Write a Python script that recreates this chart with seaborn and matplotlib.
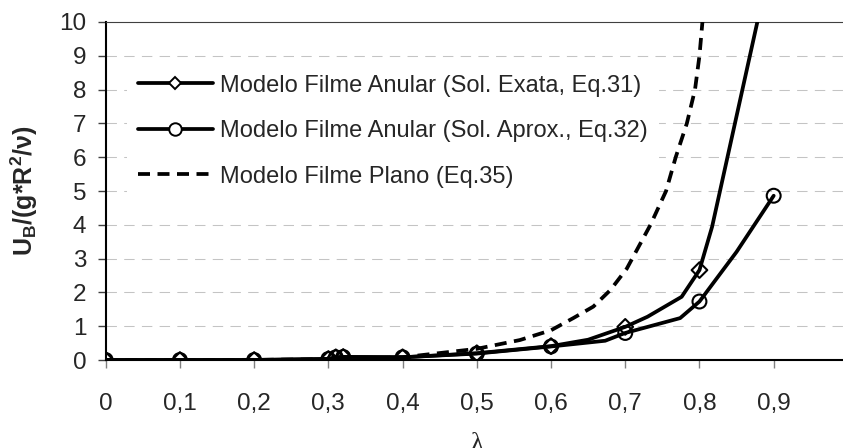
import matplotlib
matplotlib.use("Agg")
import matplotlib.pyplot as plt
from matplotlib.lines import Line2D
import seaborn as sns

# ---- data ----
exact_line_x = [0, 0.1, 0.2, 0.3, 0.31, 0.32, 0.4, 0.5, 0.6, 0.65, 0.7, 0.73, 0.776, 0.8, 0.817, 0.878, 0.9]
exact_line_y = [0, 0, 0, 0.03, 0.08, 0.09, 0.08, 0.2, 0.41, 0.6, 0.98, 1.28, 1.87, 2.66, 3.94, 10.0, 12.2]
exact_mark_x = [0, 0.1, 0.2, 0.3, 0.31, 0.32, 0.4, 0.5, 0.6, 0.7, 0.8]
exact_mark_y = [0, 0, 0, 0.03, 0.08, 0.09, 0.08, 0.2, 0.41, 0.98, 2.66]

approx_line_x = [0, 0.1, 0.2, 0.3, 0.31, 0.32, 0.4, 0.5, 0.6, 0.673, 0.7, 0.774, 0.8, 0.85, 0.9]
approx_line_y = [0, 0, 0, 0.03, 0.08, 0.09, 0.08, 0.19, 0.4, 0.57, 0.8, 1.24, 1.73, 3.2, 4.86]
approx_mark_x = [0, 0.1, 0.2, 0.3, 0.31, 0.32, 0.4, 0.5, 0.6, 0.7, 0.8, 0.9]
approx_mark_y = [0, 0, 0, 0.03, 0.08, 0.09, 0.08, 0.19, 0.4, 0.8, 1.73, 4.86]

plano_x = [0, 0.1, 0.2, 0.3, 0.4, 0.5, 0.558, 0.6, 0.63, 0.657, 0.68, 0.702, 0.734, 0.755, 0.768, 0.783, 0.794, 0.8, 0.804, 0.81]
plano_y = [0, 0, 0.005, 0.02, 0.08, 0.33, 0.59, 0.88, 1.24, 1.58, 2.07, 2.7, 4.0, 5.0, 6.0, 7.0, 8.0, 9.0, 10.0, 11.5]

labels = ["Modelo Filme Anular (Sol. Exata, Eq.31)",
          "Modelo Filme Anular (Sol. Aprox., Eq.32)",
          "Modelo Filme Plano (Eq.35)"]
xtick_vals = [0, 0.1, 0.2, 0.3, 0.4, 0.5, 0.6, 0.7, 0.8, 0.9, 1.0]
xtick_labels = ["0", "0,1", "0,2", "0,3", "0,4", "0,5", "0,6", "0,7", "0,8", "0,9", "1"]
ytick_vals = list(range(0, 11))

sns.set_theme(style="white")
plt.rcParams["font.family"] = ["Liberation Sans", "DejaVu Sans"]
plt.rcParams["mathtext.default"] = "regular"

fig = plt.figure(figsize=(8.43, 4.48), dpi=100)
ax = fig.add_axes([105.7 / 843, 88 / 448, 742.2 / 843, 338 / 448])

LW = 2.7
DASH = (0, (3.2, 2.0))
sns.lineplot(x=exact_line_x, y=exact_line_y, ax=ax, color="black", lw=LW,
             estimator=None, sort=False, zorder=4)
sns.lineplot(x=approx_line_x, y=approx_line_y, ax=ax, color="black", lw=LW,
             estimator=None, sort=False, zorder=4)
sns.lineplot(x=plano_x, y=plano_y, ax=ax, color="black", lw=LW,
             estimator=None, sort=False, zorder=3, linestyle=DASH)
sns.scatterplot(x=exact_mark_x, y=exact_mark_y, ax=ax, marker="D", s=64,
                fc="none", ec="black", linewidth=1.5, zorder=5)
sns.scatterplot(x=approx_mark_x, y=approx_mark_y, ax=ax, marker="o", s=100,
                fc="none", ec="black", linewidth=1.5, zorder=5)

ax.set_xlim(0, 1)
ax.set_ylim(0, 10)
ax.set_xticks(xtick_vals)
ax.set_xticklabels(xtick_labels)
ax.set_yticks(ytick_vals)
ax.set_yticklabels([str(v) for v in ytick_vals])

ax.grid(False)
for v in ytick_vals[1:-1]:
    ax.axhline(v, color="#c4c4c4", lw=0.75, linestyle=(0, (10, 7)), zorder=1)

ax.spines["right"].set_visible(False)
ax.spines["top"].set_color("#404040")
ax.spines["top"].set_linewidth(0.8)
ax.spines["left"].set_color("black")
ax.spines["left"].set_linewidth(1.5)
ax.spines["bottom"].set_color("black")
ax.spines["bottom"].set_linewidth(1.5)

ax.tick_params(axis="x", direction="out", length=6, width=1, color="#808080",
               pad=18, labelsize=17.5, bottom=True)
ax.tick_params(axis="y", direction="out", length=6, width=1, color="#404040",
               pad=8, labelsize=17.5, left=True)

ax.set_ylabel(r"U$_B$/(g*R$^2$/$\nu$)", fontsize=18, fontweight="bold")
ax.yaxis.set_label_coords(-0.0885, 0.5)
ax.set_xlabel("λ", fontsize=19, family=["Liberation Serif", "DejaVu Serif"])
ax.xaxis.set_label_coords(0.5, -0.215)

handles = [
    Line2D([], [], color="black", lw=LW, marker="D", ms=6.6, mfc="white", mec="black", mew=1.4),
    Line2D([], [], color="black", lw=LW, marker="o", ms=9.0, mfc="white", mec="black", mew=1.4),
    Line2D([], [], color="black", lw=LW, linestyle=DASH),
]
leg = ax.legend(handles, labels, loc="upper left", bbox_to_anchor=(0.0287, 0.876),
                borderaxespad=0, fontsize=17, frameon=True, facecolor="white",
                edgecolor="none", framealpha=1, handlelength=3.2, handletextpad=0.3,
                labelspacing=1.0, borderpad=0.45, fancybox=False)
leg.set_zorder(10)

fig.savefig("out.png", dpi=100)
